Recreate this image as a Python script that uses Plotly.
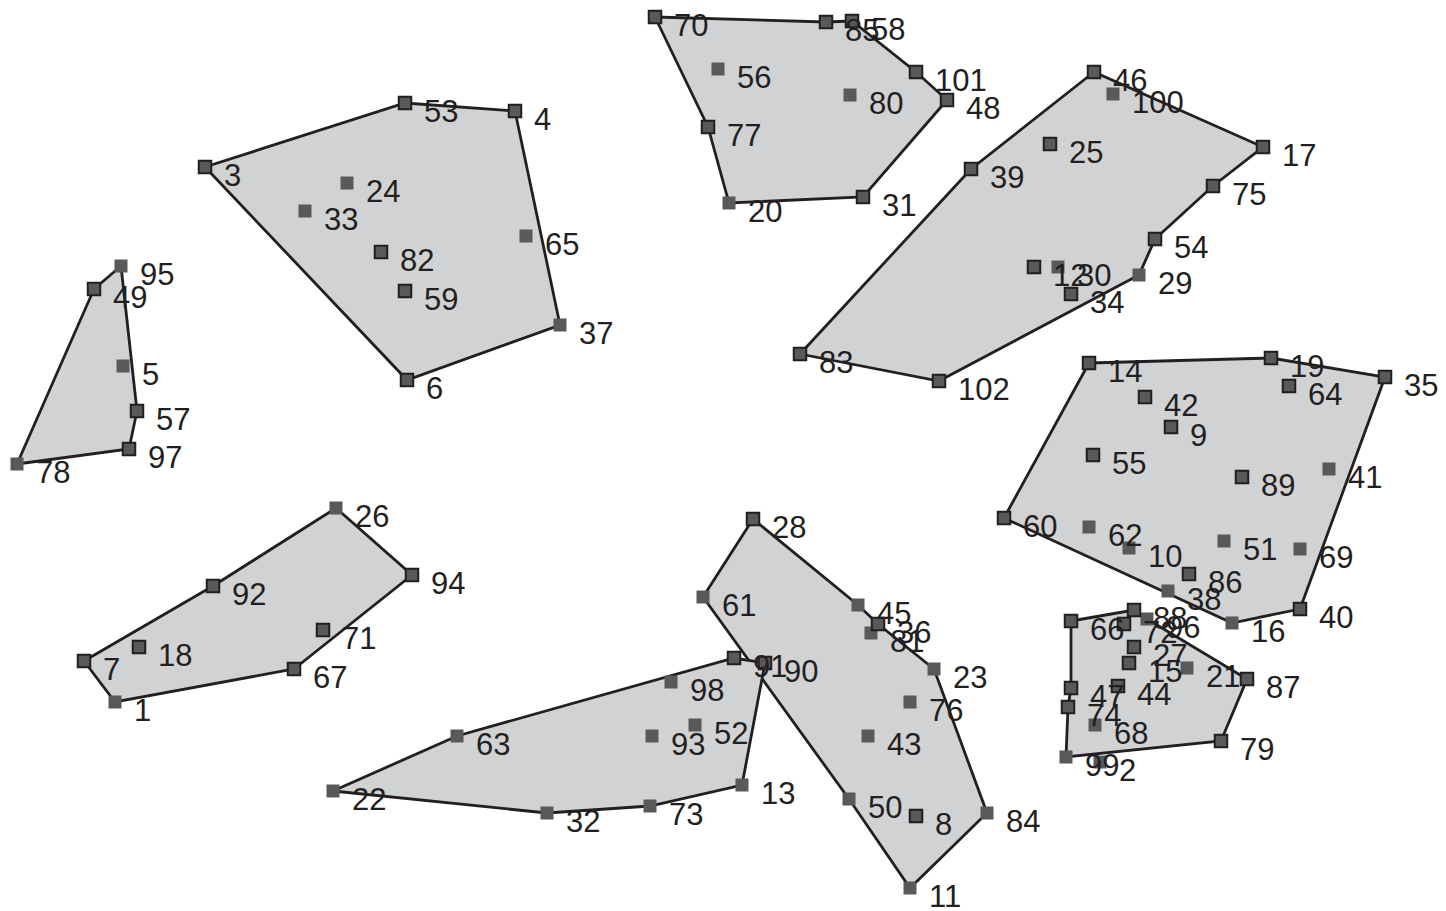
import plotly.graph_objects as go

# point ids and positions (y grows downwards)
ids = [1, 2, 3, 4, 5, 6, 7, 8, 9, 10,
       11, 12, 13, 14, 15, 16, 17, 18, 19, 20,
       21, 22, 23, 24, 25, 26, 27, 28, 29, 30,
       31, 32, 33, 34, 35, 36, 37, 38, 39, 40,
       41, 42, 43, 44, 45, 46, 47, 48, 49, 50,
       51, 52, 53, 54, 55, 56, 57, 58, 59, 60,
       61, 62, 63, 64, 65, 66, 67, 68, 69, 70,
       71, 72, 73, 74, 75, 76, 77, 78, 79, 80,
       81, 82, 83, 84, 85, 86, 87, 88, 89, 90,
       91, 92, 93, 94, 95, 96, 97, 98, 99, 100,
       101, 102]
xs = [115, 1100, 205, 515, 123, 407, 84, 916, 1171, 1129,
      910, 1034, 742, 1089, 1129, 1232, 1263, 139, 1271, 729,
      1187, 333, 934, 347, 1050, 336, 1134, 753, 1139, 1058,
      863, 547, 305, 1071, 1385, 878, 560, 1168, 971, 1300,
      1329, 1145, 868, 1118, 858, 1094, 1071, 947, 94, 849,
      1224, 695, 405, 1155, 1093, 718, 137, 852, 405, 1004,
      703, 1089, 457, 1289, 526, 1071, 294, 1095, 1300, 655,
      323, 1124, 650, 1068, 1213, 910, 708, 17, 1221, 850,
      871, 381, 800, 987, 826, 1189, 1247, 1134, 1242, 765,
      734, 213, 652, 412, 121, 1147, 129, 671, 1066, 1113,
      916, 939]
ys = [702, 762, 167, 111, 366, 380, 661, 816, 427, 548,
      888, 267, 785, 363, 663, 623, 147, 647, 358, 203,
      668, 791, 669, 183, 144, 508, 647, 519, 275, 267,
      197, 813, 211, 294, 377, 624, 325, 591, 169, 609,
      469, 397, 736, 686, 605, 72, 688, 100, 289, 799,
      541, 725, 103, 239, 455, 69, 411, 21, 291, 518,
      597, 527, 736, 386, 236, 621, 669, 725, 549, 17,
      630, 624, 806, 707, 186, 702, 127, 464, 741, 95,
      633, 252, 354, 813, 22, 574, 679, 610, 477, 663,
      658, 586, 736, 575, 266, 619, 449, 682, 757, 94,
      72, 381]

# hull outlines, listed by point id
hulls = [
    [78, 49, 95, 57, 97],
    [3, 53, 4, 37, 6],
    [70, 85, 58, 101, 48, 31, 20, 77],
    [46, 17, 75, 54, 29, 102, 83, 39],
    [14, 19, 35, 40, 16, 60],
    [66, 88, 96, 87, 79, 99, 74, 47],
    [28, 45, 36, 23, 84, 11, 50, 61],
    [22, 63, 91, 90, 13, 73, 32],
    [7, 92, 26, 94, 67, 1],
]

# points drawn with a dark outline
outlined = {49, 57, 97, 3, 53, 4, 82, 59, 6, 70, 85, 58, 101, 48, 31, 77,
            46, 25, 39, 17, 75, 54, 12, 34, 83, 102, 14, 19, 35, 64, 42, 9,
            55, 89, 60, 86, 40, 66, 88, 72, 27, 15, 87, 47, 44, 74, 79,
            28, 91, 90, 36, 8, 94, 92, 71, 18, 7, 67}

pos = {i: (x, y) for i, x, y in zip(ids, xs, ys)}

fig = go.Figure()

for h in hulls:
    hx = [pos[i][0] for i in h] + [pos[h[0]][0]]
    hy = [pos[i][1] for i in h] + [pos[h[0]][1]]
    fig.add_trace(go.Scatter(x=hx, y=hy, mode="lines", fill="toself",
                             fillcolor="#d1d2d4",
                             line=dict(color="#231f20", width=2.8),
                             hoverinfo="skip"))

plain = [i for i in ids if i not in outlined]
ring = [i for i in ids if i in outlined]
fig.add_trace(go.Scatter(x=[pos[i][0] for i in plain], y=[pos[i][1] for i in plain],
                         mode="markers",
                         marker=dict(symbol="square", size=13, color="#58595b",
                                     line=dict(width=0))))
fig.add_trace(go.Scatter(x=[pos[i][0] for i in ring], y=[pos[i][1] for i in ring],
                         mode="markers",
                         marker=dict(symbol="square", size=12.5, color="#58595b",
                                     line=dict(width=2, color="#231f20"))))

for i in ids:
    fig.add_annotation(x=pos[i][0], y=pos[i][1], text=str(i), showarrow=False,
                       xanchor="left", yanchor="middle", xshift=17, yshift=-8,
                       font=dict(family="Liberation Sans, Arial", size=31,
                                 color="#231f20"))

fig.update_xaxes(range=[0, 1446], visible=False)
fig.update_yaxes(range=[911, 0], visible=False)
fig.update_layout(width=1446, height=911, margin=dict(l=0, r=0, t=0, b=0),
                  plot_bgcolor="white", paper_bgcolor="white", showlegend=False)

fig.write_html("out.html", config={"displayModeBar": False},
               post_script="document.body.style.margin='0';")
